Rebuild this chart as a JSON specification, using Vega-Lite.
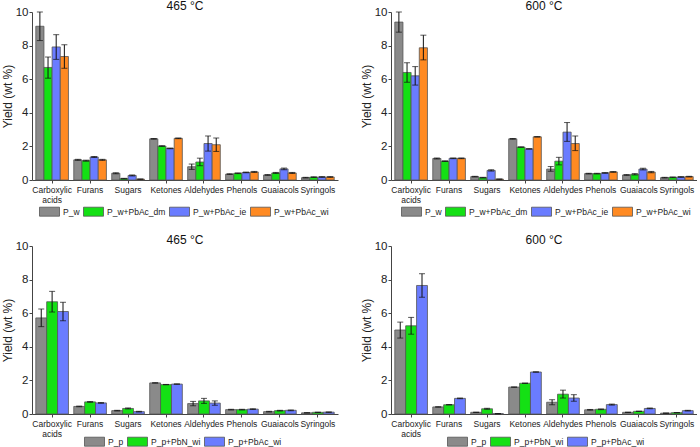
{
  "$schema": "https://vega.github.io/schema/vega-lite/v6.json",
  "padding": {"left": 1, "top": 0, "right": 0, "bottom": 0},
  "background": "white",
  "config": {
    "font": "Liberation Sans",
    "view": {"stroke": null},
    "title": {"fontSize": 12, "fontWeight": "normal", "offset": -7, "color": "#111"},
    "axisY": {"grid": false, "tickSize": 3, "labelFontSize": 11.5, "titleFontSize": 12, "titleFontWeight": "normal", "values": [0, 2, 4, 6, 8, 10], "domainColor": "#444", "tickColor": "#444", "labelColor": "#222", "titleColor": "#222", "labelPadding": 1, "titlePadding": 1},
    "axisX": {"labelAngle": 0, "labelFontSize": 8.5, "tickSize": 3, "labelPadding": 2, "domainColor": "#444", "tickColor": "#444", "labelColor": "#222", "labelOverlap": false, "labelLimit": 80, "labelLineHeight": 10, "labelExpr": "datum.label == 'Carboxylic acids' ? ['Carboxylic','acids'] : datum.label"},
    "legend": {"orient": "none", "direction": "horizontal", "title": null, "padding": 0, "offset": 0, "symbolType": "M-1,-0.45H1V0.45H-1Z", "symbolSize": 400, "symbolStrokeColor": "#555", "symbolStrokeWidth": 0.8, "symbolOpacity": 1, "labelFontSize": 8.5, "labelOffset": 3, "columnPadding": 1, "labelColor": "#222"}
  },
  "datasets": {
    "tl": [
      {"cat": "Carboxylic acids", "s": "P_w", "v": 9.15, "lo": 8.3, "hi": 10.0},
      {"cat": "Carboxylic acids", "s": "P_w+PbAc_dm", "v": 6.7, "lo": 6.06, "hi": 7.32},
      {"cat": "Carboxylic acids", "s": "P_w+PbAc_ie", "v": 7.92, "lo": 7.18, "hi": 8.65},
      {"cat": "Carboxylic acids", "s": "P_w+PbAc_wi", "v": 7.35, "lo": 6.65, "hi": 8.05},
      {"cat": "Furans", "s": "P_w", "v": 1.2, "lo": 1.17, "hi": 1.23},
      {"cat": "Furans", "s": "P_w+PbAc_dm", "v": 1.15, "lo": 1.12, "hi": 1.18},
      {"cat": "Furans", "s": "P_w+PbAc_ie", "v": 1.37, "lo": 1.34, "hi": 1.4},
      {"cat": "Furans", "s": "P_w+PbAc_wi", "v": 1.2, "lo": 1.17, "hi": 1.23},
      {"cat": "Sugars", "s": "P_w", "v": 0.4, "lo": 0.37, "hi": 0.43},
      {"cat": "Sugars", "s": "P_w+PbAc_dm", "v": 0.08, "lo": 0.06, "hi": 0.1},
      {"cat": "Sugars", "s": "P_w+PbAc_ie", "v": 0.27, "lo": 0.24, "hi": 0.3},
      {"cat": "Sugars", "s": "P_w+PbAc_wi", "v": 0.05, "lo": 0.04, "hi": 0.06},
      {"cat": "Ketones", "s": "P_w", "v": 2.45, "lo": 2.43, "hi": 2.47},
      {"cat": "Ketones", "s": "P_w+PbAc_dm", "v": 2.02, "lo": 2.0, "hi": 2.04},
      {"cat": "Ketones", "s": "P_w+PbAc_ie", "v": 1.88, "lo": 1.86, "hi": 1.9},
      {"cat": "Ketones", "s": "P_w+PbAc_wi", "v": 2.48, "lo": 2.46, "hi": 2.5},
      {"cat": "Aldehydes", "s": "P_w", "v": 0.79, "lo": 0.63, "hi": 0.95},
      {"cat": "Aldehydes", "s": "P_w+PbAc_dm", "v": 1.07, "lo": 0.85, "hi": 1.3},
      {"cat": "Aldehydes", "s": "P_w+PbAc_ie", "v": 2.17, "lo": 1.72, "hi": 2.62},
      {"cat": "Aldehydes", "s": "P_w+PbAc_wi", "v": 2.1, "lo": 1.7, "hi": 2.5},
      {"cat": "Phenols", "s": "P_w", "v": 0.35, "lo": 0.33, "hi": 0.37},
      {"cat": "Phenols", "s": "P_w+PbAc_dm", "v": 0.4, "lo": 0.38, "hi": 0.42},
      {"cat": "Phenols", "s": "P_w+PbAc_ie", "v": 0.45, "lo": 0.43, "hi": 0.47},
      {"cat": "Phenols", "s": "P_w+PbAc_wi", "v": 0.48, "lo": 0.45, "hi": 0.51},
      {"cat": "Guaiacols", "s": "P_w", "v": 0.3, "lo": 0.28, "hi": 0.32},
      {"cat": "Guaiacols", "s": "P_w+PbAc_dm", "v": 0.42, "lo": 0.39, "hi": 0.45},
      {"cat": "Guaiacols", "s": "P_w+PbAc_ie", "v": 0.66, "lo": 0.61, "hi": 0.71},
      {"cat": "Guaiacols", "s": "P_w+PbAc_wi", "v": 0.42, "lo": 0.39, "hi": 0.45},
      {"cat": "Syringols", "s": "P_w", "v": 0.14, "lo": 0.12, "hi": 0.16},
      {"cat": "Syringols", "s": "P_w+PbAc_dm", "v": 0.17, "lo": 0.15, "hi": 0.19},
      {"cat": "Syringols", "s": "P_w+PbAc_ie", "v": 0.18, "lo": 0.16, "hi": 0.2},
      {"cat": "Syringols", "s": "P_w+PbAc_wi", "v": 0.18, "lo": 0.16, "hi": 0.2}
    ],
    "tr": [
      {"cat": "Carboxylic acids", "s": "P_w", "v": 9.4, "lo": 8.8, "hi": 10.0},
      {"cat": "Carboxylic acids", "s": "P_w+PbAc_dm", "v": 6.4, "lo": 5.82, "hi": 6.98},
      {"cat": "Carboxylic acids", "s": "P_w+PbAc_ie", "v": 6.2, "lo": 5.65, "hi": 6.75},
      {"cat": "Carboxylic acids", "s": "P_w+PbAc_wi", "v": 7.87, "lo": 7.15, "hi": 8.62},
      {"cat": "Furans", "s": "P_w", "v": 1.28, "lo": 1.25, "hi": 1.31},
      {"cat": "Furans", "s": "P_w+PbAc_dm", "v": 1.12, "lo": 1.1, "hi": 1.14},
      {"cat": "Furans", "s": "P_w+PbAc_ie", "v": 1.29, "lo": 1.27, "hi": 1.31},
      {"cat": "Furans", "s": "P_w+PbAc_wi", "v": 1.29, "lo": 1.27, "hi": 1.31},
      {"cat": "Sugars", "s": "P_w", "v": 0.2, "lo": 0.18, "hi": 0.22},
      {"cat": "Sugars", "s": "P_w+PbAc_dm", "v": 0.14, "lo": 0.12, "hi": 0.16},
      {"cat": "Sugars", "s": "P_w+PbAc_ie", "v": 0.57, "lo": 0.53, "hi": 0.61},
      {"cat": "Sugars", "s": "P_w+PbAc_wi", "v": 0.05, "lo": 0.04, "hi": 0.06},
      {"cat": "Ketones", "s": "P_w", "v": 2.45, "lo": 2.43, "hi": 2.47},
      {"cat": "Ketones", "s": "P_w+PbAc_dm", "v": 1.96, "lo": 1.95, "hi": 1.97},
      {"cat": "Ketones", "s": "P_w+PbAc_ie", "v": 1.85, "lo": 1.84, "hi": 1.86},
      {"cat": "Ketones", "s": "P_w+PbAc_wi", "v": 2.57, "lo": 2.56, "hi": 2.58},
      {"cat": "Aldehydes", "s": "P_w", "v": 0.65, "lo": 0.52, "hi": 0.8},
      {"cat": "Aldehydes", "s": "P_w+PbAc_dm", "v": 1.12, "lo": 0.9, "hi": 1.35},
      {"cat": "Aldehydes", "s": "P_w+PbAc_ie", "v": 2.85, "lo": 2.3, "hi": 3.42},
      {"cat": "Aldehydes", "s": "P_w+PbAc_wi", "v": 2.17, "lo": 1.75, "hi": 2.62},
      {"cat": "Phenols", "s": "P_w", "v": 0.38, "lo": 0.36, "hi": 0.4},
      {"cat": "Phenols", "s": "P_w+PbAc_dm", "v": 0.38, "lo": 0.36, "hi": 0.4},
      {"cat": "Phenols", "s": "P_w+PbAc_ie", "v": 0.42, "lo": 0.4, "hi": 0.44},
      {"cat": "Phenols", "s": "P_w+PbAc_wi", "v": 0.48, "lo": 0.46, "hi": 0.5},
      {"cat": "Guaiacols", "s": "P_w", "v": 0.3, "lo": 0.28, "hi": 0.32},
      {"cat": "Guaiacols", "s": "P_w+PbAc_dm", "v": 0.34, "lo": 0.3, "hi": 0.38},
      {"cat": "Guaiacols", "s": "P_w+PbAc_ie", "v": 0.65, "lo": 0.6, "hi": 0.7},
      {"cat": "Guaiacols", "s": "P_w+PbAc_wi", "v": 0.47, "lo": 0.43, "hi": 0.51},
      {"cat": "Syringols", "s": "P_w", "v": 0.14, "lo": 0.12, "hi": 0.16},
      {"cat": "Syringols", "s": "P_w+PbAc_dm", "v": 0.16, "lo": 0.14, "hi": 0.18},
      {"cat": "Syringols", "s": "P_w+PbAc_ie", "v": 0.18, "lo": 0.16, "hi": 0.2},
      {"cat": "Syringols", "s": "P_w+PbAc_wi", "v": 0.2, "lo": 0.18, "hi": 0.22}
    ],
    "bl": [
      {"cat": "Carboxylic acids", "s": "P_p", "v": 5.72, "lo": 5.2, "hi": 6.25},
      {"cat": "Carboxylic acids", "s": "P_p+PbN_wi", "v": 6.68, "lo": 6.07, "hi": 7.3},
      {"cat": "Carboxylic acids", "s": "P_p+PbAc_wi", "v": 6.1, "lo": 5.55, "hi": 6.65},
      {"cat": "Furans", "s": "P_p", "v": 0.45, "lo": 0.43, "hi": 0.47},
      {"cat": "Furans", "s": "P_p+PbN_wi", "v": 0.72, "lo": 0.7, "hi": 0.74},
      {"cat": "Furans", "s": "P_p+PbAc_wi", "v": 0.66, "lo": 0.64, "hi": 0.68},
      {"cat": "Sugars", "s": "P_p", "v": 0.2, "lo": 0.18, "hi": 0.22},
      {"cat": "Sugars", "s": "P_p+PbN_wi", "v": 0.33, "lo": 0.3, "hi": 0.36},
      {"cat": "Sugars", "s": "P_p+PbAc_wi", "v": 0.14, "lo": 0.12, "hi": 0.16},
      {"cat": "Ketones", "s": "P_p", "v": 1.85, "lo": 1.84, "hi": 1.86},
      {"cat": "Ketones", "s": "P_p+PbN_wi", "v": 1.75, "lo": 1.74, "hi": 1.76},
      {"cat": "Ketones", "s": "P_p+PbAc_wi", "v": 1.78, "lo": 1.77, "hi": 1.79},
      {"cat": "Aldehydes", "s": "P_p", "v": 0.62, "lo": 0.49, "hi": 0.75},
      {"cat": "Aldehydes", "s": "P_p+PbN_wi", "v": 0.78, "lo": 0.63, "hi": 0.93},
      {"cat": "Aldehydes", "s": "P_p+PbAc_wi", "v": 0.65, "lo": 0.52, "hi": 0.78},
      {"cat": "Phenols", "s": "P_p", "v": 0.26, "lo": 0.24, "hi": 0.28},
      {"cat": "Phenols", "s": "P_p+PbN_wi", "v": 0.26, "lo": 0.24, "hi": 0.28},
      {"cat": "Phenols", "s": "P_p+PbAc_wi", "v": 0.29, "lo": 0.27, "hi": 0.31},
      {"cat": "Guaiacols", "s": "P_p", "v": 0.14, "lo": 0.12, "hi": 0.16},
      {"cat": "Guaiacols", "s": "P_p+PbN_wi", "v": 0.2, "lo": 0.18, "hi": 0.22},
      {"cat": "Guaiacols", "s": "P_p+PbAc_wi", "v": 0.22, "lo": 0.2, "hi": 0.24},
      {"cat": "Syringols", "s": "P_p", "v": 0.07, "lo": 0.06, "hi": 0.08},
      {"cat": "Syringols", "s": "P_p+PbN_wi", "v": 0.1, "lo": 0.09, "hi": 0.11},
      {"cat": "Syringols", "s": "P_p+PbAc_wi", "v": 0.11, "lo": 0.1, "hi": 0.12}
    ],
    "br": [
      {"cat": "Carboxylic acids", "s": "P_p", "v": 5.0, "lo": 4.52, "hi": 5.47},
      {"cat": "Carboxylic acids", "s": "P_p+PbN_wi", "v": 5.25, "lo": 4.75, "hi": 5.75},
      {"cat": "Carboxylic acids", "s": "P_p+PbAc_wi", "v": 7.65, "lo": 6.95, "hi": 8.35},
      {"cat": "Furans", "s": "P_p", "v": 0.42, "lo": 0.41, "hi": 0.43},
      {"cat": "Furans", "s": "P_p+PbN_wi", "v": 0.55, "lo": 0.54, "hi": 0.56},
      {"cat": "Furans", "s": "P_p+PbAc_wi", "v": 0.93, "lo": 0.91, "hi": 0.95},
      {"cat": "Sugars", "s": "P_p", "v": 0.1, "lo": 0.09, "hi": 0.11},
      {"cat": "Sugars", "s": "P_p+PbN_wi", "v": 0.31, "lo": 0.28, "hi": 0.34},
      {"cat": "Sugars", "s": "P_p+PbAc_wi", "v": 0.02, "lo": 0.01, "hi": 0.03},
      {"cat": "Ketones", "s": "P_p", "v": 1.6, "lo": 1.59, "hi": 1.61},
      {"cat": "Ketones", "s": "P_p+PbN_wi", "v": 1.83, "lo": 1.82, "hi": 1.84},
      {"cat": "Ketones", "s": "P_p+PbAc_wi", "v": 2.5, "lo": 2.49, "hi": 2.51},
      {"cat": "Aldehydes", "s": "P_p", "v": 0.7, "lo": 0.55, "hi": 0.85},
      {"cat": "Aldehydes", "s": "P_p+PbN_wi", "v": 1.18, "lo": 0.95, "hi": 1.42},
      {"cat": "Aldehydes", "s": "P_p+PbAc_wi", "v": 0.95, "lo": 0.76, "hi": 1.15},
      {"cat": "Phenols", "s": "P_p", "v": 0.25, "lo": 0.23, "hi": 0.27},
      {"cat": "Phenols", "s": "P_p+PbN_wi", "v": 0.28, "lo": 0.26, "hi": 0.3},
      {"cat": "Phenols", "s": "P_p+PbAc_wi", "v": 0.56, "lo": 0.53, "hi": 0.59},
      {"cat": "Guaiacols", "s": "P_p", "v": 0.1, "lo": 0.09, "hi": 0.11},
      {"cat": "Guaiacols", "s": "P_p+PbN_wi", "v": 0.16, "lo": 0.15, "hi": 0.17},
      {"cat": "Guaiacols", "s": "P_p+PbAc_wi", "v": 0.33, "lo": 0.31, "hi": 0.35},
      {"cat": "Syringols", "s": "P_p", "v": 0.05, "lo": 0.04, "hi": 0.06},
      {"cat": "Syringols", "s": "P_p+PbN_wi", "v": 0.08, "lo": 0.07, "hi": 0.09},
      {"cat": "Syringols", "s": "P_p+PbAc_wi", "v": 0.2, "lo": 0.18, "hi": 0.22}
    ]
  },
  "resolve": {"scale": {"color": "independent", "x": "independent", "y": "independent", "xOffset": "independent"}, "legend": {"color": "independent"}},
  "spacing": 16,
  "vconcat": [
    {
      "hconcat": [
        {
          "width": 306, "height": 168,
          "title": "465 °C",
          "data": {"name": "tl"},
          "encoding": {
            "x": {"field": "cat", "type": "nominal", "title": null, "sort": ["Carboxylic acids", "Furans", "Sugars", "Ketones", "Aldehydes", "Phenols", "Guaiacols", "Syringols"], "scale": {"paddingInner": 0.14, "paddingOuter": 0.1}},
            "xOffset": {"field": "s", "type": "nominal", "sort": ["P_w", "P_w+PbAc_dm", "P_w+PbAc_ie", "P_w+PbAc_wi"], "scale": {"paddingInner": 0, "paddingOuter": 0}}
          },
          "layer": [
            {"mark": {"type": "bar", "stroke": "#555", "strokeWidth": 0.8},
             "encoding": {
               "y": {"field": "v", "type": "quantitative", "title": "Yield (wt %)", "scale": {"domain": [0, 10]}},
               "color": {"field": "s", "type": "nominal", "sort": ["P_w", "P_w+PbAc_dm", "P_w+PbAc_ie", "P_w+PbAc_wi"], "scale": {"range": ["#8a8a8a", "#14e014", "#6a7cff", "#ff8a22"]}, "legend": {"legendX": 7, "legendY": 189, "columns": 4}}
             }},
            {"mark": {"type": "rule", "color": "#111", "strokeWidth": 1}, "encoding": {"y": {"field": "lo", "type": "quantitative"}, "y2": {"field": "hi"}}},
            {"mark": {"type": "tick", "color": "#111", "size": 6, "thickness": 1}, "encoding": {"y": {"field": "lo", "type": "quantitative"}}},
            {"mark": {"type": "tick", "color": "#111", "size": 6, "thickness": 1}, "encoding": {"y": {"field": "hi", "type": "quantitative"}}}
          ]
        },
        {
          "width": 306, "height": 168,
          "title": "600 °C",
          "data": {"name": "tr"},
          "encoding": {
            "x": {"field": "cat", "type": "nominal", "title": null, "sort": ["Carboxylic acids", "Furans", "Sugars", "Ketones", "Aldehydes", "Phenols", "Guaiacols", "Syringols"], "scale": {"paddingInner": 0.14, "paddingOuter": 0.1}},
            "xOffset": {"field": "s", "type": "nominal", "sort": ["P_w", "P_w+PbAc_dm", "P_w+PbAc_ie", "P_w+PbAc_wi"], "scale": {"paddingInner": 0, "paddingOuter": 0}}
          },
          "layer": [
            {"mark": {"type": "bar", "stroke": "#555", "strokeWidth": 0.8},
             "encoding": {
               "y": {"field": "v", "type": "quantitative", "title": "Yield (wt %)", "scale": {"domain": [0, 10]}},
               "color": {"field": "s", "type": "nominal", "sort": ["P_w", "P_w+PbAc_dm", "P_w+PbAc_ie", "P_w+PbAc_wi"], "scale": {"range": ["#8a8a8a", "#14e014", "#6a7cff", "#ff8a22"]}, "legend": {"legendX": 10, "legendY": 189, "columns": 4}}
             }},
            {"mark": {"type": "rule", "color": "#111", "strokeWidth": 1}, "encoding": {"y": {"field": "lo", "type": "quantitative"}, "y2": {"field": "hi"}}},
            {"mark": {"type": "tick", "color": "#111", "size": 6, "thickness": 1}, "encoding": {"y": {"field": "lo", "type": "quantitative"}}},
            {"mark": {"type": "tick", "color": "#111", "size": 6, "thickness": 1}, "encoding": {"y": {"field": "hi", "type": "quantitative"}}}
          ]
        }
      ],
      "spacing": 22,
      "resolve": {"scale": {"color": "independent", "x": "independent", "y": "independent", "xOffset": "independent"}, "legend": {"color": "independent"}}
    },
    {
      "hconcat": [
        {
          "width": 306, "height": 168,
          "title": "465 °C",
          "data": {"name": "bl"},
          "encoding": {
            "x": {"field": "cat", "type": "nominal", "title": null, "sort": ["Carboxylic acids", "Furans", "Sugars", "Ketones", "Aldehydes", "Phenols", "Guaiacols", "Syringols"], "scale": {"paddingInner": 0.14, "paddingOuter": 0.1}},
            "xOffset": {"field": "s", "type": "nominal", "sort": ["P_p", "P_p+PbN_wi", "P_p+PbAc_wi"], "scale": {"paddingInner": 0, "paddingOuter": 0}}
          },
          "layer": [
            {"mark": {"type": "bar", "stroke": "#555", "strokeWidth": 0.8},
             "encoding": {
               "y": {"field": "v", "type": "quantitative", "title": "Yield (wt %)", "scale": {"domain": [0, 10]}},
               "color": {"field": "s", "type": "nominal", "sort": ["P_p", "P_p+PbN_wi", "P_p+PbAc_wi"], "scale": {"range": ["#8a8a8a", "#14e014", "#6a7cff"]}, "legend": {"legendX": 52, "legendY": 185, "columns": 3}}
             }},
            {"mark": {"type": "rule", "color": "#111", "strokeWidth": 1}, "encoding": {"y": {"field": "lo", "type": "quantitative"}, "y2": {"field": "hi"}}},
            {"mark": {"type": "tick", "color": "#111", "size": 6, "thickness": 1}, "encoding": {"y": {"field": "lo", "type": "quantitative"}}},
            {"mark": {"type": "tick", "color": "#111", "size": 6, "thickness": 1}, "encoding": {"y": {"field": "hi", "type": "quantitative"}}}
          ]
        },
        {
          "width": 306, "height": 168,
          "title": "600 °C",
          "data": {"name": "br"},
          "encoding": {
            "x": {"field": "cat", "type": "nominal", "title": null, "sort": ["Carboxylic acids", "Furans", "Sugars", "Ketones", "Aldehydes", "Phenols", "Guaiacols", "Syringols"], "scale": {"paddingInner": 0.14, "paddingOuter": 0.1}},
            "xOffset": {"field": "s", "type": "nominal", "sort": ["P_p", "P_p+PbN_wi", "P_p+PbAc_wi"], "scale": {"paddingInner": 0, "paddingOuter": 0}}
          },
          "layer": [
            {"mark": {"type": "bar", "stroke": "#555", "strokeWidth": 0.8},
             "encoding": {
               "y": {"field": "v", "type": "quantitative", "title": "Yield (wt %)", "scale": {"domain": [0, 10]}},
               "color": {"field": "s", "type": "nominal", "sort": ["P_p", "P_p+PbN_wi", "P_p+PbAc_wi"], "scale": {"range": ["#8a8a8a", "#14e014", "#6a7cff"]}, "legend": {"legendX": 56, "legendY": 185, "columns": 3}}
             }},
            {"mark": {"type": "rule", "color": "#111", "strokeWidth": 1}, "encoding": {"y": {"field": "lo", "type": "quantitative"}, "y2": {"field": "hi"}}},
            {"mark": {"type": "tick", "color": "#111", "size": 6, "thickness": 1}, "encoding": {"y": {"field": "lo", "type": "quantitative"}}},
            {"mark": {"type": "tick", "color": "#111", "size": 6, "thickness": 1}, "encoding": {"y": {"field": "hi", "type": "quantitative"}}}
          ]
        }
      ],
      "spacing": 22,
      "resolve": {"scale": {"color": "independent", "x": "independent", "y": "independent", "xOffset": "independent"}, "legend": {"color": "independent"}}
    }
  ]
}
